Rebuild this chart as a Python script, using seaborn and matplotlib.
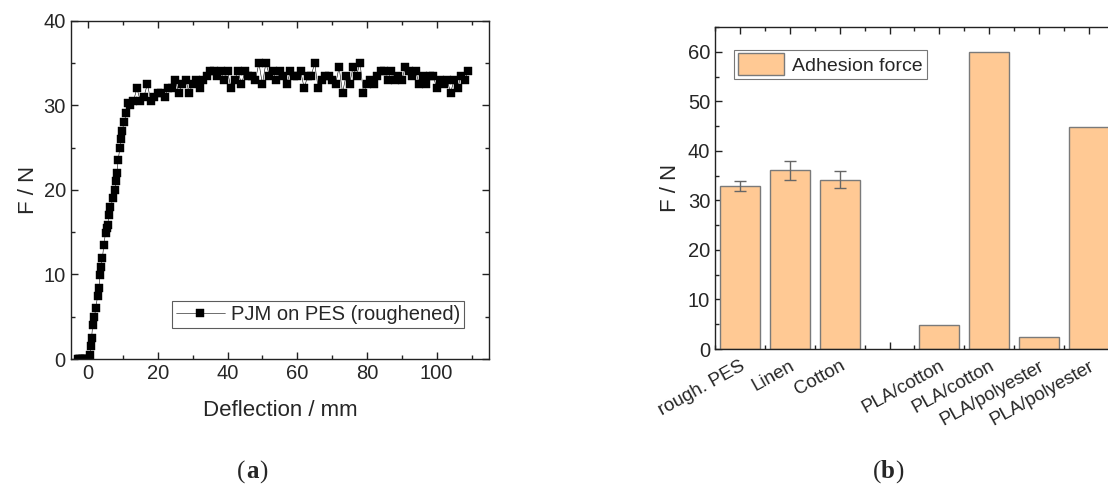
import numpy as np
import pandas as pd
import matplotlib
matplotlib.use("Agg")
import matplotlib.pyplot as plt
from matplotlib.ticker import MultipleLocator, FixedLocator
import seaborn as sns

sns.set_style("ticks")
plt.rcParams["font.family"] = ["Liberation Sans", "DejaVu Sans"]

# (a) force vs deflection, PJM on roughened PES
defl = [-3.0, -2.6, -2.2, -1.8, -1.4, -1.0, -0.6, -0.2,
        0.5, 0.75, 1.0, 1.3, 1.8, 2.2, 2.7, 3.1, 3.4, 3.7,
        4.1, 4.5, 5.0, 5.4, 5.6, 6.0, 6.4, 7.2, 7.7, 8.0,
        8.3, 8.6, 9.1, 9.4, 9.8, 10.3, 11.0, 11.5,
        12, 13, 14, 15, 16, 17, 18, 19, 20, 21,
        22, 23, 24, 25, 26, 27, 28, 29, 30, 31,
        32, 33, 34, 35, 36, 37, 38, 39, 40, 41,
        42, 43, 44, 45, 46, 47, 48, 49, 50, 51,
        52, 53, 54, 55, 56, 57, 58, 59, 60, 61,
        62, 63, 64, 65, 66, 67, 68, 69, 70, 71,
        72, 73, 74, 75, 76, 77, 78, 79, 80, 81,
        82, 83, 84, 85, 86, 87, 88, 89, 90, 91,
        92, 93, 94, 95, 96, 97, 98, 99, 100, 101,
        102, 103, 104, 105, 106, 107, 108, 109]
force = [0, 0, 0, 0, 0, 0, 0, 0,
         0.5, 1.5, 2.5, 4.0, 5.0, 6.0, 7.4, 8.4, 9.9, 10.9,
         11.9, 13.5, 14.9, 15.5, 15.9, 17.0, 18.0, 19.0, 20.0, 21.0,
         22.0, 23.5, 24.9, 26.0, 27.0, 28.0, 29.1, 30.3,
         30.0, 30.5, 32.0, 30.5, 31.0, 32.5, 30.5, 31.0, 31.5, 31.5,
         31.0, 32.0, 32.0, 33.0, 31.5, 32.5, 33.0, 31.5, 32.5, 33.0,
         32.0, 33.0, 33.5, 34.0, 34.0, 33.5, 34.0, 33.0, 34.0, 32.0,
         33.0, 34.0, 32.5, 34.0, 33.5, 33.5, 33.0, 35.0, 32.5, 35.0,
         33.5, 34.0, 33.0, 34.0, 33.5, 32.5, 34.0, 33.5, 33.5, 34.0,
         32.0, 33.5, 33.5, 35.0, 32.0, 33.0, 33.5, 33.5, 33.0, 32.5,
         34.5, 31.5, 33.5, 32.5, 34.5, 33.5, 35.0, 31.5, 32.5, 33.0,
         32.5, 33.5, 34.0, 34.0, 33.0, 34.0, 33.0, 33.5, 33.0, 34.5,
         34.0, 33.5, 34.0, 32.5, 33.5, 32.5, 33.5, 33.5, 32.0, 33.0,
         32.5, 33.0, 31.5, 33.0, 32.0, 33.5, 33.0, 34.0]

# (b) adhesion force per sample (empty slot kept as a gap)
samples = ["rough. PES", "Linen", "Cotton", "", "PLA/cotton", "PLA/cotton",
           "PLA/polyester", "PLA/polyester"]
adhesion = [32.9, 36.1, 34.2, np.nan, 4.9, 60.0, 2.4, 44.9]
adhesion_err = [1.0, 1.9, 1.65, np.nan, 0, 0, 0, 0]

fig = plt.figure(figsize=(11.08, 4.88), dpi=100)
ax1 = fig.add_axes([0.0638, 0.2643, 0.3775, 0.6933])
ax2 = fig.add_axes([0.6453, 0.2848, 0.3601, 0.6599])

fs_tick = 14.5
fs_lab = 16

# ---- panel a
df_a = pd.DataFrame({"Deflection": defl, "F": force})
sns.lineplot(data=df_a, x="Deflection", y="F", ax=ax1, sort=False,
             estimator=None, color="black", lw=0.4, marker="s",
             markersize=6.2, markeredgecolor="black", markeredgewidth=0.3,
             label="PJM on PES (roughened)")
ax1.set_xlim(-5, 115)
ax1.set_ylim(0, 40)
ax1.xaxis.set_major_locator(MultipleLocator(20))
ax1.xaxis.set_minor_locator(MultipleLocator(10))
ax1.yaxis.set_major_locator(MultipleLocator(10))
ax1.yaxis.set_minor_locator(MultipleLocator(5))
ax1.set_xlabel("Deflection / mm", fontsize=fs_lab, labelpad=12)
ax1.set_ylabel("F / N", fontsize=fs_lab, labelpad=3)
leg1 = ax1.legend(loc="lower right", bbox_to_anchor=(0.94, 0.092),
                  fontsize=14.5, frameon=True, fancybox=False,
                  edgecolor="#333333", handlelength=2.4, borderpad=0.2,
                  handletextpad=0.3, borderaxespad=0.0)
leg1.get_frame().set_linewidth(0.8)

# ---- panel b
keys = [f"s{i}" for i in range(len(samples))]
df_b = pd.DataFrame({"key": keys, "F": adhesion}).dropna()
sns.barplot(data=df_b, x="key", y="F", order=keys, ax=ax2, color="#FFC994",
            saturation=1, width=0.8, edgecolor="#7a7a7a", linewidth=1,
            label="Adhesion force", errorbar=None)
err_pos = [i for i, e in enumerate(adhesion_err) if e == e and e > 0]
ax2.errorbar(err_pos, [adhesion[i] for i in err_pos],
             yerr=[adhesion_err[i] for i in err_pos], fmt="none",
             ecolor="#666666", elinewidth=1, capsize=4, capthick=1)
ax2.set_xlim(-0.5, 7.5)
ax2.set_ylim(0, 65)
ax2.yaxis.set_major_locator(MultipleLocator(10))
ax2.yaxis.set_minor_locator(MultipleLocator(5))
ax2.xaxis.set_minor_locator(FixedLocator(np.arange(-0.5, 8, 1.0)))
ax2.set_xticks(range(len(samples)))
ax2.set_xticklabels(samples, rotation=29, ha="right", rotation_mode="anchor",
                    fontsize=13.5)
ax2.set_xlabel("")
ax2.set_ylabel("F / N", fontsize=fs_lab, labelpad=5)
leg2 = ax2.legend(loc="upper left", fontsize=14, frameon=True, fancybox=False,
                  edgecolor="#555555", handlelength=2.4, handleheight=1.3,
                  borderpad=0.2, handletextpad=0.4, borderaxespad=0.0,
                  bbox_to_anchor=(0.047, 0.93))
leg2.get_frame().set_linewidth(0.8)

for ax in (ax1, ax2):
    for sp in ax.spines.values():
        sp.set_visible(True)
        sp.set_color("#222222")
        sp.set_linewidth(1.0)
    ax.tick_params(which="both", direction="in", top=True, right=True,
                   labelsize=fs_tick, color="#222222")
    ax.tick_params(which="major", length=5, width=1)
    ax.tick_params(which="minor", length=3, width=1)
ax2.tick_params(which="both", right=False)
ax2.tick_params(axis="x", which="major", pad=6, labelsize=13.5)

# panel captions: serif, bold letter
for cx, letter in ((0.2275, "a"), (0.8015, "b")):
    fig.text(cx, 0.02, letter, ha="center", va="baseline", fontsize=18,
             fontweight="bold", family="Liberation Serif")
    fig.text(cx - 0.0062, 0.02, "(", ha="right", va="baseline", fontsize=18,
             family="Liberation Serif")
    fig.text(cx + 0.0062, 0.02, ")", ha="left", va="baseline", fontsize=18,
             family="Liberation Serif")

fig.savefig("out.png", dpi=100)
